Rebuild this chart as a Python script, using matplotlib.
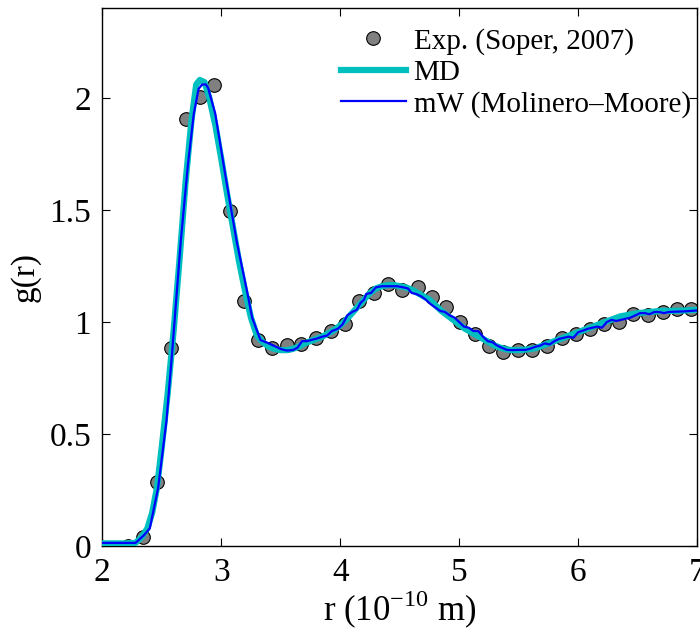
import matplotlib
matplotlib.use("Agg")
import matplotlib.pyplot as plt

plt.rcParams['font.family'] = ['Liberation Serif', 'DejaVu Serif']
plt.rcParams['mathtext.fontset'] = 'custom'
plt.rcParams['mathtext.rm'] = 'Liberation Serif'

# Experimental data (Soper, 2007)
exp_r = [2.10, 2.22, 2.34, 2.46, 2.58, 2.70, 2.82, 2.94, 3.07, 3.19,
         3.31, 3.43, 3.55, 3.67, 3.80, 3.92, 4.04, 4.16, 4.28, 4.40,
         4.52, 4.65, 4.77, 4.89, 5.01, 5.13, 5.25, 5.37, 5.49, 5.61,
         5.74, 5.86, 5.98, 6.10, 6.22, 6.34, 6.46, 6.59, 6.71, 6.83, 6.95]
exp_g = [-0.01, 0.00, 0.04, 0.285, 0.885, 1.905, 2.005, 2.057, 1.497, 1.096,
         0.92, 0.884, 0.90, 0.903, 0.93, 0.962, 0.992, 1.096, 1.13, 1.17,
         1.145, 1.155, 1.11, 1.066, 0.999, 0.947, 0.895, 0.866, 0.876, 0.876,
         0.893, 0.928, 0.947, 0.967, 0.992, 0.999, 1.036, 1.033, 1.044, 1.059, 1.059]

# MD curve
md_r = [2.00, 2.10, 2.20, 2.28, 2.33, 2.38, 2.42, 2.46, 2.50, 2.55,
        2.60, 2.65, 2.70, 2.75, 2.79, 2.82, 2.86, 2.90, 2.95, 3.00,
        3.05, 3.10, 3.15, 3.20, 3.25, 3.30, 3.35, 3.40, 3.45, 3.50,
        3.55, 3.60, 3.65, 3.70, 3.75, 3.80, 3.85, 3.90, 3.95, 4.00,
        4.05, 4.10, 4.15, 4.20, 4.25, 4.30, 4.35, 4.40, 4.45, 4.50,
        4.55, 4.60, 4.65, 4.70, 4.75, 4.80, 4.85, 4.90, 4.95, 5.00,
        5.05, 5.10, 5.15, 5.20, 5.25, 5.30, 5.35, 5.40, 5.45, 5.50,
        5.55, 5.60, 5.65, 5.70, 5.75, 5.80, 5.85, 5.90, 5.95, 6.00,
        6.05, 6.10, 6.15, 6.20, 6.25, 6.30, 6.35, 6.40, 6.45, 6.50,
        6.60, 6.70, 6.80, 6.90, 7.00]
md_g = [0.013, 0.013, 0.013, 0.015, 0.04, 0.08, 0.15, 0.26, 0.44, 0.68,
        0.96, 1.28, 1.62, 1.90, 2.06, 2.08, 2.07, 2.00, 1.88, 1.73,
        1.57, 1.42, 1.27, 1.14, 1.02, 0.94, 0.91, 0.89, 0.88, 0.875,
        0.875, 0.88, 0.89, 0.905, 0.915, 0.925, 0.935, 0.95, 0.965, 0.985,
        1.01, 1.04, 1.07, 1.10, 1.13, 1.15, 1.16, 1.165, 1.165, 1.16,
        1.155, 1.145, 1.13, 1.115, 1.10, 1.075, 1.05, 1.03, 1.01, 0.99,
        0.97, 0.955, 0.94, 0.925, 0.91, 0.895, 0.885, 0.878, 0.875, 0.875,
        0.877, 0.88, 0.885, 0.895, 0.905, 0.915, 0.925, 0.935, 0.945, 0.955,
        0.965, 0.975, 0.985, 0.995, 1.005, 1.015, 1.025, 1.03, 1.035, 1.04,
        1.045, 1.05, 1.05, 1.052, 1.055]

# mW (Molinero-Moore) curve
mw_r = [2.00, 2.28, 2.35, 2.40, 2.47, 2.54, 2.59, 2.66, 2.72, 2.77,
        2.81, 2.84, 2.87, 2.89, 2.95, 3.03, 3.13, 3.22, 3.26, 3.33,
        3.40, 3.44, 3.50, 3.55, 3.60, 3.64, 3.68, 3.72, 3.77, 3.80,
        3.85, 3.89, 3.93, 3.98, 4.02, 4.06, 4.10, 4.14, 4.17, 4.20,
        4.22, 4.26, 4.30, 4.35, 4.40, 4.48, 4.53, 4.57, 4.60, 4.64,
        4.68, 4.72, 4.76, 4.80, 4.84, 4.88, 4.92, 4.96, 5.00, 5.04,
        5.08, 5.12, 5.16, 5.20, 5.24, 5.28, 5.32, 5.36, 5.40, 5.45,
        5.50, 5.56, 5.60, 5.64, 5.68, 5.72, 5.76, 5.80, 5.84, 5.88,
        5.92, 5.96, 6.00, 6.04, 6.08, 6.12, 6.16, 6.20, 6.24, 6.28,
        6.32, 6.36, 6.40, 6.44, 6.48, 6.52, 6.56, 6.60, 6.64, 6.68,
        6.72, 6.76, 6.80, 6.90, 7.00]
mw_g = [0.015, 0.015, 0.049, 0.08, 0.26, 0.56, 0.88, 1.36, 1.70, 1.93,
        2.04, 2.06, 2.06, 2.045, 1.93, 1.67, 1.36, 1.13, 1.02, 0.92,
        0.905, 0.895, 0.88, 0.873, 0.875, 0.885, 0.915, 0.915, 0.922, 0.926,
        0.935, 0.94, 0.96, 0.97, 0.99, 1.03, 1.045, 1.055, 1.085, 1.10,
        1.126, 1.13, 1.155, 1.16, 1.16, 1.16, 1.155, 1.15, 1.13, 1.125,
        1.115, 1.10, 1.08, 1.065, 1.05, 1.045, 1.03, 1.02, 1.0, 0.98,
        0.975, 0.96, 0.96, 0.935, 0.915, 0.91, 0.895, 0.885, 0.876, 0.875,
        0.876, 0.876, 0.882, 0.89, 0.895, 0.905, 0.900, 0.915, 0.925, 0.93,
        0.935, 0.93, 0.955, 0.962, 0.97, 0.975, 0.98, 0.975, 1.00, 1.01,
        1.005, 1.01, 1.015, 1.02, 1.03, 1.04, 1.040, 1.035, 1.045, 1.045,
        1.04, 1.045, 1.046, 1.048, 1.052]

xticks = [2, 3, 4, 5, 6, 7]
yticks = [0, 0.5, 1, 1.5, 2]
ytick_labels = ['0', '0.5', '1', '1.5', '2']

fig = plt.figure(figsize=(7.0, 6.33), dpi=100)
ax = fig.add_axes([0.146, 0.137, 0.850, 0.850])

ax.plot(exp_r, exp_g, linestyle='none', marker='o', markersize=9.8,
        markerfacecolor='#808080', markeredgecolor='black', markeredgewidth=0.8,
        label='Exp. (Soper, 2007)', zorder=2)
ax.plot(md_r, md_g, color='#00BFBF', linewidth=4.5, label='MD', zorder=3)
ax.plot(mw_r, mw_g, color='#0000FF', linewidth=1.6,
        label='mW (Molinero\u2013Moore)', zorder=4)

ax.set_xlim(2, 7)
ax.set_ylim(0, 2.4)
ax.set_xticks(xticks)
ax.set_yticks(yticks)
ax.set_yticklabels(ytick_labels)
ax.tick_params(direction='in', top=True, right=True, labelsize=24,
               length=6, width=0.8, pad=8)
for s in ax.spines.values():
    s.set_linewidth(1.0)

ax.set_xlabel(r'r (10$^{\mathregular{-10}}$ m)', fontsize=25, labelpad=1)
ax.set_ylabel('g(r)', fontsize=24, labelpad=6)

ax.legend(loc='upper right', frameon=False, fontsize=21,
          handlelength=2.25, handletextpad=0.25, labelspacing=0.17,
          borderaxespad=0.0, borderpad=0.1, bbox_to_anchor=(0.994, 0.969))

fig.savefig('out.png', dpi=100)
